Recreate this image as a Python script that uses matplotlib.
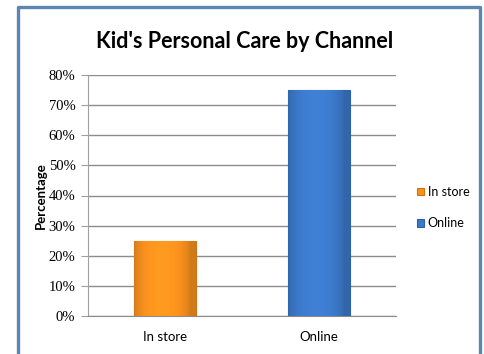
import matplotlib
matplotlib.use("Agg")
import matplotlib.pyplot as plt
import numpy as np
from matplotlib.lines import Line2D
from matplotlib.patches import Patch
from matplotlib.ticker import PercentFormatter

categories = ["In store", "Online"]
values = [25, 75]
colors = ["#F7901E", "#3B78C8"]
edge_colors = ["#D0720F", "#2E62A8"]
yticks = [0, 10, 20, 30, 40, 50, 60, 70, 80]

fig = plt.figure(figsize=(4.84, 3.54), dpi=100)
fig.patch.set_facecolor("white")

ax = fig.add_axes([88 / 484, 1 - 316 / 354, (396 - 88) / 484, (316 - 75) / 354])
x = np.arange(len(categories))
bars = ax.bar(x, values, width=0.4, color=colors, edgecolor=edge_colors,
              linewidth=0.8, zorder=3)

# soft horizontal shading across each bar
for b, c in zip(bars, colors):
    x0, y0 = b.get_x(), b.get_y()
    w, h = b.get_width(), b.get_height()
    base = np.array(matplotlib.colors.to_rgb(c))
    t = np.linspace(0, 1, 64)
    shade = 0.85 + 0.22 * np.sin(np.pi * np.clip(t * 1.1, 0, 1)) ** 0.6
    img = np.clip(base[None, :] * shade[:, None], 0, 1)[None, :, :]
    im = ax.imshow(img, extent=[x0, x0 + w, y0, y0 + h], aspect="auto",
                   zorder=4, interpolation="bilinear")
    im.set_clip_path(b)

ax.set_xlim(-0.5, 1.5)
ax.set_ylim(0, 80)
ax.set_yticks(yticks)
ax.yaxis.set_major_formatter(PercentFormatter(decimals=0))
ax.grid(axis="y", color="#8C8C8C", linewidth=1.0, zorder=0)
ax.set_axisbelow(True)
for s in ["top", "right"]:
    ax.spines[s].set_visible(False)
ax.spines["left"].set_color("#A0A0A0")
ax.spines["bottom"].set_color("#8C8C8C")
ax.tick_params(axis="y", length=5, color="#A0A0A0", pad=4)
ax.tick_params(axis="x", length=0, pad=11)
ax.set_xticks(x)
ax.set_xticklabels(categories, family="Lato", fontsize=9.5)
for lab in ax.get_yticklabels():
    lab.set_family("Liberation Serif")
    lab.set_fontsize(10.5)

ax.set_ylabel("Percentage", family="Lato", fontweight="bold", fontsize=9.5,
              labelpad=1)

fig.text(245 / 484, 1 - 42 / 354, "Kid's Personal Care by Channel",
         family="Lato", fontweight="bold", fontsize=15.5, ha="center",
         va="center")

handles = [Patch(facecolor=c, edgecolor=e, linewidth=0.8)
           for c, e in zip(colors, edge_colors)]
fig.legend(handles, categories, loc="center left",
           bbox_to_anchor=(406 / 484, 1 - 207.5 / 354), frameon=False,
           prop={"family": "Lato", "size": 9}, handlelength=0.55,
           handleheight=0.55, handletextpad=0.3, labelspacing=1.55)

# frame around the whole chart (left, top, right edges)
frame = Line2D([18 / 484, 18 / 484, 480 / 484, 480 / 484],
               [0, 1 - 7 / 354, 1 - 7 / 354, 0],
               transform=fig.transFigure, color="#5B86B2", linewidth=2.4)
fig.add_artist(frame)

fig.savefig("out.png", dpi=100)
